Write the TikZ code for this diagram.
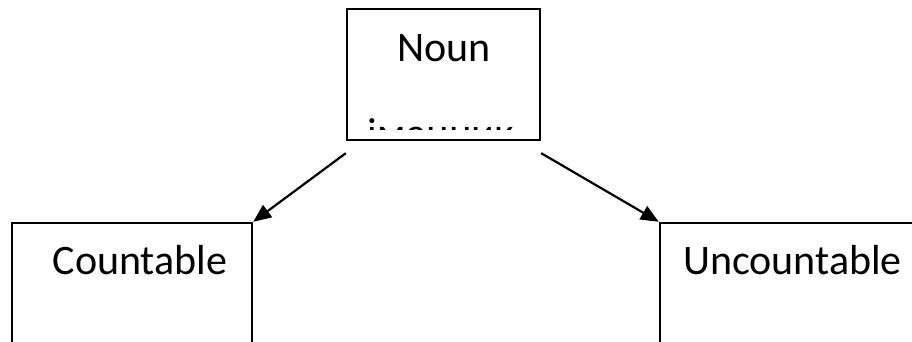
\documentclass[tikz,border=0pt]{standalone}
\usepackage{fontspec}
\setmainfont{Carlito}
\usetikzlibrary{arrows.meta}
\begin{document}
\begin{tikzpicture}[x=1pt,y=1pt,
  boxstyle/.style={draw,line width=2.4pt,inner sep=0pt},
  labelstyle/.style={font=\fontsize{42}{50}\selectfont,inner sep=0pt,anchor=base},
  arrowstyle/.style={line width=2.2pt,-{Triangle[length=18pt,width=15pt]}}]
\clip (0,0) rectangle (912,342);
\fill[white] (0,0) rectangle (912,342);
% Noun box: x 347..540, y(px) 9..140
\node[boxstyle,minimum width=193pt,minimum height=131pt] (noun) at (443.5,267.5) {};
\node[labelstyle] (nountext) at (444,280) {Noun};
\begin{scope}
  \clip (348,212) rectangle (539,332);
  \node[labelstyle] (hidden) at (441,194) {іменник};
\end{scope}
% Countable box: x 12..252, top px 223
\node[boxstyle,minimum width=240pt,minimum height=200pt] (count) at (132,19) {};
\node[labelstyle] (counttext) at (140,67) {Countable};
% Uncountable box: x 660..960, top px 223
\node[boxstyle,minimum width=300pt,minimum height=200pt] (uncount) at (810,19) {};
\node[labelstyle] (uncounttext) at (792.5,67) {Uncountable};
% arrows
\draw[arrowstyle] ([yshift=-12pt]noun.south west) -- (count.north east);
\draw[arrowstyle] ([yshift=-12pt]noun.south east) -- (uncount.north west);
\end{tikzpicture}
\end{document}
